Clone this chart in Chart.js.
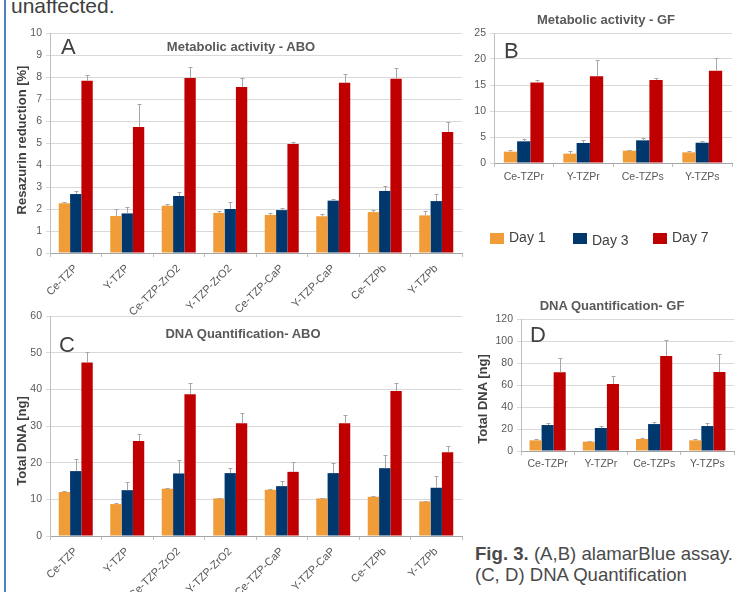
<!DOCTYPE html>
<html lang="en">
<head>
<meta charset="UTF-8">
<title>Fig. 3</title>
<script src="https://cdn.jsdelivr.net/npm/chart.js"></script>
<style>
  body { margin: 0; background: #fff; font-family: "Liberation Sans", Arial, sans-serif; color: #404040; }
  #page { position: relative; width: 739px; height: 592px; overflow: hidden; }
  .box { position: absolute; }
  .txt { position: absolute; white-space: nowrap; }
  .ptitle { font-weight: bold; font-size: 13px; color: #595959; transform: translate(-50%, -50%); }
  .letter { font-size: 22px; color: #404040; }
  .ytitle { font-weight: bold; font-size: 13px; color: #404040; transform: translate(-50%, -50%) rotate(-90deg); }
  .sq { position: absolute; width: 14px; height: 11px; }
</style>
</head>
<body>
<div id="page">
  <div style="position:absolute;left:4px;top:0;width:2px;height:592px;background:#4f81bd"></div>
  <div class="txt" style="left:11px;top:-6px;font-size:21px;line-height:24px">unaffected.</div>

  <div class="box" style="left:0;top:0;width:470px;height:320px"><canvas id="chartA"></canvas></div>
  <div class="box" style="left:0;top:300px;width:470px;height:292px"><canvas id="chartC"></canvas></div>
  <div class="box" style="left:460px;top:0;width:279px;height:200px"><canvas id="chartB"></canvas></div>
  <div class="box" style="left:460px;top:290px;width:279px;height:190px"><canvas id="chartD"></canvas></div>

  <div class="txt ptitle" style="left:241px;top:46px">Metabolic activity - ABO</div>
  <div class="txt ptitle" style="left:243px;top:333px">DNA Quantification- ABO</div>
  <div class="txt ptitle" style="left:606px;top:19px">Metabolic activity - GF</div>
  <div class="txt ptitle" style="left:612px;top:305px">DNA Quantification- GF</div>

  <div class="txt letter" style="left:61px;top:34px">A</div>
  <div class="txt letter" style="left:59px;top:332px">C</div>
  <div class="txt letter" style="left:504px;top:38px">B</div>
  <div class="txt letter" style="left:530px;top:322px">D</div>

  <div class="txt ytitle" style="left:21px;top:140px">Resazurin reduction [%]</div>
  <div class="txt ytitle" style="left:21px;top:441px">Total DNA [ng]</div>
  <div class="txt ytitle" style="left:482px;top:399px">Total DNA [ng]</div>

  <div class="sq" style="left:490px;top:233px;background:#f09c38"></div>
  <div class="txt" style="left:509px;top:229px;font-size:14px">Day 1</div>
  <div class="sq" style="left:573px;top:233px;background:#00386e"></div>
  <div class="txt" style="left:592px;top:232px;font-size:14px">Day 3</div>
  <div class="sq" style="left:653px;top:233px;background:#c00000"></div>
  <div class="txt" style="left:672px;top:229px;font-size:14px">Day 7</div>

  <div class="txt" style="left:475px;top:543px;font-size:18.6px;color:#4a4a4a"><b>Fig. 3.</b> (A,B) alamarBlue assay.</div>
  <div class="txt" style="left:475px;top:564px;font-size:18.6px;color:#4a4a4a">(C, D) DNA Quantification</div>
</div>

<script>
  // categories
  const catsABO = ['Ce-TZP', 'Y-TZP', 'Ce-TZP-ZrO2', 'Y-TZP-ZrO2', 'Ce-TZP-CaP', 'Y-TZP-CaP', 'Ce-TZPb', 'Y-TZPb'];
  const catsGF = ['Ce-TZPr', 'Y-TZPr', 'Ce-TZPs', 'Y-TZPs'];
  const dayLabels = ['Day 1', 'Day 3', 'Day 7'];

  // A - metabolic activity ABO (%)
  const metAboD1 = [2.26, 1.68, 2.15, 1.82, 1.73, 1.67, 1.86, 1.71];
  const metAboD3 = [2.68, 1.80, 2.59, 2.00, 1.95, 2.38, 2.82, 2.36];
  const metAboD7 = [7.83, 5.73, 7.95, 7.55, 4.95, 7.74, 7.92, 5.50];
  const metAboSd1 = [0.07, 0.30, 0.08, 0.09, 0.07, 0.09, 0.11, 0.20];
  const metAboSd3 = [0.12, 0.29, 0.18, 0.32, 0.08, 0.06, 0.21, 0.32];
  const metAboSd7 = [0.26, 1.04, 0.50, 0.40, 0.08, 0.38, 0.47, 0.44];

  // B - metabolic activity GF
  const metGfD1 = [2.18, 1.80, 2.37, 2.05];
  const metGfD3 = [4.17, 3.85, 4.36, 3.90];
  const metGfD7 = [15.5, 16.7, 15.96, 17.75];
  const metGfSd1 = [0.32, 0.50, 0.13, 0.25];
  const metGfSd3 = [0.43, 0.55, 0.44, 0.33];
  const metGfSd7 = [0.46, 3.2, 0.34, 2.45];

  // C - DNA ABO (ng)
  const dnaAboD1 = [12.0, 8.7, 12.9, 10.25, 12.6, 10.25, 10.7, 9.44];
  const dnaAboD3 = [17.7, 12.5, 17.06, 17.15, 13.6, 17.15, 18.5, 13.16];
  const dnaAboD7 = [47.3, 25.9, 38.66, 30.76, 17.5, 30.76, 39.56, 22.87];
  const dnaAboSd1 = [0.2, 0.4, 0.2, 0.15, 0.2, 0.15, 0.2, 0.16];
  const dnaAboSd3 = [3.26, 2.3, 3.64, 1.35, 1.4, 2.81, 3.55, 3.34];
  const dnaAboSd7 = [2.8, 1.8, 2.99, 2.74, 2.6, 2.14, 2.09, 1.73];

  // D - DNA GF (ng)
  const dnaGfD1 = [9.7, 8.5, 10.9, 9.7];
  const dnaGfD3 = [23.6, 20.9, 24.5, 22.7];
  const dnaGfD7 = [71.5, 60.9, 86.4, 71.8];
  const dnaGfSd1 = [0.9, 0.9, 0.9, 0.9];
  const dnaGfSd3 = [1.9, 2.1, 1.9, 2.8];
  const dnaGfSd7 = [13.0, 7.3, 14.5, 16.4];

  // y axis ranges [max, step]
  const metAboAxis = [10, 1];
  const metGfAxis = [25, 5];
  const dnaAboAxis = [60, 10];
  const dnaGfAxis = [120, 20];

  const dayColors = ['#f09c38', '#00386e', '#c00000'];

  // draws the upward error bar on every bar
  const errorBars = {
    id: 'errorBars',
    afterDatasetsDraw(chart) {
      const ctx = chart.ctx;
      const y = chart.scales.y;
      chart.data.datasets.forEach((ds, i) => {
        chart.getDatasetMeta(i).data.forEach((bar, j) => {
          const top = Math.round(y.getPixelForValue(ds.data[j] + ds.sd[j])) + 0.5;
          const x = Math.round(bar.x) + 0.5;
          ctx.save();
          ctx.strokeStyle = '#a6a6a6';
          ctx.lineWidth = 1;
          ctx.beginPath();
          ctx.moveTo(x, bar.y);
          ctx.lineTo(x, top);
          ctx.moveTo(x - 2, top);
          ctx.lineTo(x + 2, top);
          ctx.stroke();
          ctx.restore();
        });
      });
    }
  };

  function makeChart(id, cats, values, sds, axis, opt) {
    const datasets = values.map((v, i) => ({
      label: dayLabels[i],
      data: v,
      sd: sds[i],
      backgroundColor: dayColors[i],
      borderWidth: 0,
      categoryPercentage: opt.catPct,
      barPercentage: 1.0
    }));
    return new Chart(document.getElementById(id), {
      type: 'bar',
      data: { labels: cats, datasets: datasets },
      options: {
        responsive: true,
        maintainAspectRatio: false,
        animation: false,
        layout: { padding: opt.pad },
        plugins: { legend: { display: false }, tooltip: { enabled: false } },
        scales: {
          x: {
            afterFit: s => { s.height = opt.xh; },
            border: { color: '#a6a6a6' },
            grid: { offset: true, drawOnChartArea: false, color: '#bfbfbf', tickLength: 4 },
            ticks: {
              color: '#595959',
              font: { family: 'Liberation Sans', size: opt.xfont },
              minRotation: opt.rot, maxRotation: opt.rot,
              autoSkip: false, padding: opt.xpad
            }
          },
          y: {
            min: 0, max: axis[0],
            afterFit: s => { s.width = opt.yw; },
            border: { color: '#bfbfbf' },
            grid: { color: '#d9d9d9', tickLength: 4 },
            ticks: {
              stepSize: axis[1],
              color: '#595959',
              font: { family: 'Liberation Sans', size: 10.5 },
              padding: 4
            }
          }
        }
      },
      plugins: [errorBars]
    });
  }

  makeChart('chartA', catsABO, [metAboD1, metAboD3, metAboD7], [metAboSd1, metAboSd3, metAboSd7], metAboAxis,
    { pad: { left: 10, top: 33, right: 8, bottom: 0 }, yw: 40, xh: 67, rot: 45, xfont: 11, xpad: 5, catPct: 0.66 });
  makeChart('chartC', catsABO, [dnaAboD1, dnaAboD3, dnaAboD7], [dnaAboSd1, dnaAboSd3, dnaAboSd7], dnaAboAxis,
    { pad: { left: 10, top: 16, right: 8, bottom: 0 }, yw: 40, xh: 56, rot: 45, xfont: 11, xpad: 5, catPct: 0.66 });
  makeChart('chartB', catsGF, [metGfD1, metGfD3, metGfD7], [metGfSd1, metGfSd3, metGfSd7], metGfAxis,
    { pad: { left: 0, top: 33, right: 7, bottom: 0 }, yw: 34, xh: 37, rot: 0, xfont: 10.5, xpad: 4, catPct: 0.67 });
  makeChart('chartD', catsGF, [dnaGfD1, dnaGfD3, dnaGfD7], [dnaGfSd1, dnaGfSd3, dnaGfSd7], dnaGfAxis,
    { pad: { left: 0, top: 29, right: 5, bottom: 0 }, yw: 61, xh: 29, rot: 0, xfont: 10.5, xpad: 3, catPct: 0.68 });
</script>
</body>
</html>
